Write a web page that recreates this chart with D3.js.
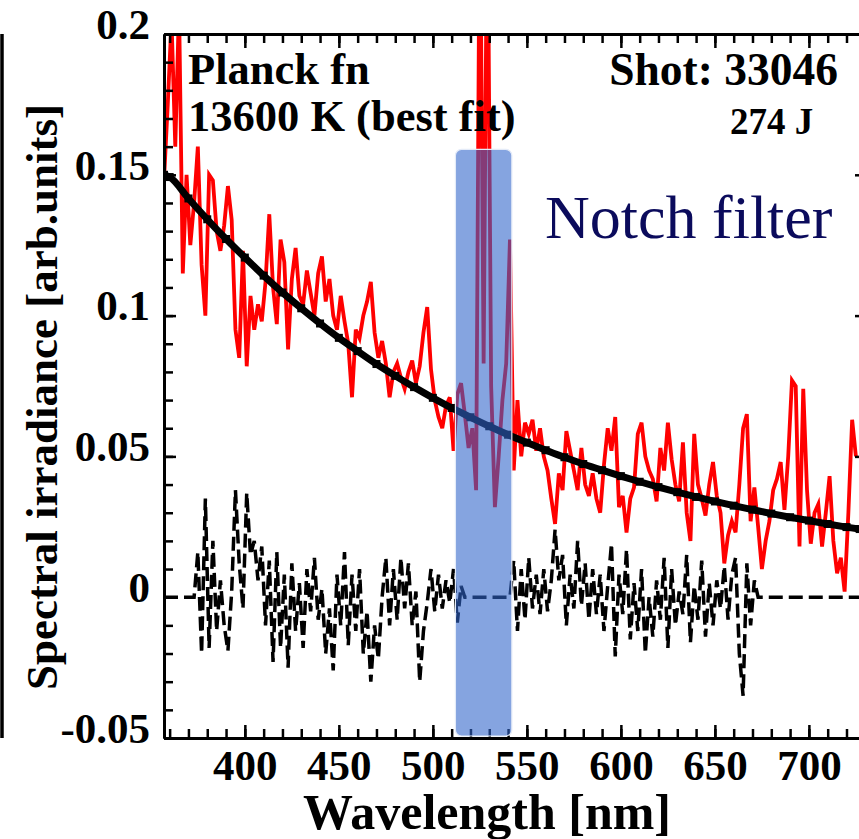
<!DOCTYPE html>
<html>
<head>
<meta charset="utf-8">
<script src="https://cdn.jsdelivr.net/npm/d3@7"></script>
<style>
  html, body { margin: 0; padding: 0; background: #fff; }
  svg text { font-family: "Liberation Serif", "Times New Roman", Times, "DejaVu Serif", serif; }
</style>
</head>
<body>
<div id="chart"></div>
<script>
const width = 859,
      height = 839;
const serif = '"Liberation Serif", "Times New Roman", Times, "DejaVu Serif", serif';

// measured spectrum, every 2 nm from 357 nm
const specStart = 357, specStep = 2;
const specVal = [
  0.148, 0.175, 0.205, 0.16, 0.21, 0.115, 0.15, 0.125, 0.14, 0.16,
  0.118, 0.10, 0.15, 0.148, 0.13, 0.123, 0.132, 0.146, 0.134, 0.095,
  0.085, 0.123, 0.082, 0.107, 0.095, 0.104, 0.098, 0.112, 0.136, 0.11,
  0.097, 0.127, 0.119, 0.088, 0.113, 0.124, 0.107, 0.104, 0.116, 0.108,
  0.1, 0.115, 0.121, 0.105, 0.113, 0.1, 0.095, 0.107, 0.098, 0.09,
  0.071, 0.095, 0.092, 0.1, 0.105, 0.112, 0.094, 0.085, 0.091, 0.083,
  0.071, 0.08, 0.083, 0.078, 0.074, 0.08, 0.084, 0.076, 0.082, 0.094,
  0.103, 0.081, 0.07, 0.064, 0.06, 0.068, 0.071, 0.052, 0.072, 0.076,
  0.065, 0.053, 0.06, 0.038, 0.26, 0.083, 0.26, 0.075, 0.032, 0.05,
  0.07, 0.083, 0.127, 0.045, 0.07, 0.05, 0.062, 0.058, 0.063, 0.052,
  0.06, 0.05, 0.045, 0.035, 0.026, 0.044, 0.038, 0.059, 0.052, 0.045,
  0.038, 0.053, 0.04, 0.036, 0.044, 0.035, 0.03, 0.047, 0.06, 0.052,
  0.064, 0.032, 0.036, 0.023, 0.035, 0.039, 0.058, 0.062, 0.05, 0.045,
  0.042, 0.034, 0.053, 0.045, 0.062, 0.049, 0.04, 0.034, 0.055, 0.03,
  0.02, 0.058, 0.04, 0.035, 0.029, 0.04, 0.048, 0.036, 0.03, 0.012,
  0.022, 0.027, 0.023, 0.04, 0.06, 0.065, 0.027, 0.039, 0.025, 0.01,
  0.02, 0.027, 0.038, 0.042, 0.048, 0.031, 0.05, 0.077, 0.075, 0.018,
  0.074, 0.038, 0.019, 0.03, 0.033, 0.018, 0.03, 0.043, 0.02, 0.0085,
  0.014, 0.002, 0.03, 0.063, 0.05
];

// Planck fit 13600 K
const fitNm = [357, 360, 370, 380, 390, 400, 410, 420, 430, 440, 450, 460, 470, 480,
  490, 500, 510, 520, 530, 540, 550, 560, 570, 580, 590, 600, 610, 620, 630, 640,
  650, 660, 670, 680, 690, 700, 710, 720, 727];
const fitVal = [0.150, 0.1492, 0.1416, 0.1342, 0.1272, 0.1206, 0.1142, 0.1082, 0.1026,
  0.0972, 0.0921, 0.0874, 0.0828, 0.0786, 0.0746, 0.0708, 0.0672, 0.0639, 0.0607,
  0.0577, 0.0549, 0.0522, 0.0497, 0.0473, 0.0451, 0.0430, 0.0410, 0.0391, 0.0373,
  0.0356, 0.0340, 0.0325, 0.0311, 0.0297, 0.0284, 0.0272, 0.0260, 0.0249, 0.0242];

// residual, every 2 nm from 373 to 673 nm, zero outside
const resStart = 373, resStep = 2;
const resVal = [
  0, 0.016, -0.02, 0.035, -0.018, 0.02, -0.012, 0.006, -0.01, -0.019,
  0.002, 0.038, 0.012, -0.004, 0.037, 0.015, 0.02, 0.006, 0.018, -0.01,
  0.013, -0.023, 0.016, -0.018, 0.008, -0.025, 0.012, -0.012, 0.005, -0.018,
  0.01, -0.005, 0.014, -0.008, 0.003, -0.02, -0.004, -0.026, 0.008, -0.01,
  0.016, -0.017, 0.008, -0.012, 0.01, -0.02, -0.005, -0.03, -0.01, -0.022,
  0, 0.014, -0.01, 0.01, -0.008, 0.014, -0.004, 0.012, -0.01, 0.002,
  -0.03, -0.012, -0.002, 0.01, -0.005, 0.008, -0.004, 0.006, -0.002, 0.01,
  -0.009, 0.004, 0, 0, 0, 0, 0, 0, 0, 0,
  0, 0, 0, 0, 0, 0.013, -0.012, 0.01, -0.008, 0.014,
  -0.004, 0.008, -0.006, 0.01, -0.005, 0.006, 0.024, 0.006, 0.015, -0.01,
  0.008, -0.004, 0.02, -0.003, 0.012, -0.008, 0.01, -0.006, 0.008, -0.012,
  0.004, 0.019, -0.021, 0.008, -0.006, 0.017, -0.015, 0.005, -0.012, 0.01,
  -0.02, 0, -0.014, 0.006, -0.008, 0.014, -0.018, 0.01, -0.01, 0.002,
  -0.006, 0.015, -0.016, 0.004, -0.008, 0.013, -0.014, 0.005, -0.01, 0.006,
  -0.004, 0.011, -0.008, 0.008, 0.014, -0.02, -0.035, 0.012, -0.01, 0.006,
  0
];
const resEnds = [357, 727];

const notchBand = [512, 542];   // nm
const notchTop = 0.159;

const xMajor = [400, 450, 500, 550, 600, 650, 700];
const yMajor = [-0.05, 0, 0.05, 0.1, 0.15, 0.2];
const yLabels = ["-0.05", "0", "0.05", "0.1", "0.15", "0.2"];

const spec = specVal.map((v, i) => [specStart + i * specStep, v]);
const fit = fitNm.map((n, i) => [n, fitVal[i]]);
const res = [[resEnds[0], 0]]
  .concat(resVal.map((v, i) => [resStart + i * resStep, v]))
  .concat([[resEnds[1], 0]]);

const plot = { left: 164, right: 870, top: 34, bottom: 738 };

const x = d3.scaleLinear().domain([357, 732.5]).range([plot.left, plot.right]);
const y = d3.scaleLinear().domain([-0.05, 0.2]).range([plot.bottom, plot.top]);

var svg = d3.select('#chart').append('svg')
  .attr('width', width)
  .attr('height', height);

svg.append('defs').append('clipPath').attr('id', 'clip')
  .append('rect')
  .attr('x', plot.left).attr('y', plot.top)
  .attr('width', plot.right - plot.left).attr('height', plot.bottom - plot.top);

// stray frame edge on the far left
svg.append('line')
  .attr('x1', 2).attr('x2', 2)
  .attr('y1', plot.top).attr('y2', plot.bottom)
  .attr('stroke', '#000').attr('stroke-width', 3.5);

var g = svg.append('g').attr('clip-path', 'url(#clip)');

var line = d3.line().x(d => x(d[0])).y(d => y(d[1]));

g.append('path').datum(spec)
  .attr('d', line)
  .attr('fill', 'none')
  .attr('stroke', '#ff0000')
  .attr('stroke-width', 3.8)
  .attr('stroke-linejoin', 'miter');

g.append('path').datum(fit)
  .attr('d', line.curve(d3.curveMonotoneX))
  .attr('fill', 'none')
  .attr('stroke', '#000')
  .attr('stroke-width', 7);

g.selectAll('rect.fitpt').data(fit)
  .enter().append('rect')
  .attr('class', 'fitpt')
  .attr('x', d => x(d[0]) - 4)
  .attr('y', d => y(d[1]) - 4)
  .attr('width', 8).attr('height', 8)
  .attr('fill', '#000');

line.curve(d3.curveLinear);
g.append('path').datum(res)
  .attr('d', line)
  .attr('fill', 'none')
  .attr('stroke', '#000')
  .attr('stroke-width', 3.5)
  .attr('stroke-dasharray', '14,6');

// axes: ticks drawn inward
function axisLines(sel) {
  sel.select('.domain').attr('stroke-width', 3);
  sel.selectAll('.tick line').attr('stroke-width', 2.5);
}

const xMinor = d3.range(360, 731, 10);
const yMinor = d3.range(-0.05, 0.2001, 0.01);

svg.append('g')
  .attr('transform', `translate(0,${plot.bottom})`)
  .call(d3.axisBottom(x).tickValues(xMinor).tickSize(-9).tickSizeOuter(0).tickFormat(''))
  .call(axisLines);
var xAx = svg.append('g')
  .attr('transform', `translate(0,${plot.bottom})`)
  .call(d3.axisBottom(x).tickValues(xMajor).tickSize(-13).tickSizeOuter(0).tickPadding(11))
  .call(axisLines);
svg.append('g')
  .attr('transform', `translate(0,${plot.top})`)
  .call(d3.axisTop(x).tickValues(xMinor).tickSize(-9).tickSizeOuter(0).tickFormat(''))
  .call(axisLines);
svg.append('g')
  .attr('transform', `translate(0,${plot.top})`)
  .call(d3.axisTop(x).tickValues(xMajor).tickSize(-14).tickSizeOuter(0).tickFormat(''))
  .call(axisLines);

svg.append('g')
  .attr('transform', `translate(${plot.left},0)`)
  .call(d3.axisLeft(y).tickValues(yMinor).tickSize(-9).tickSizeOuter(0).tickFormat(''))
  .call(axisLines);
var yAx = svg.append('g')
  .attr('transform', `translate(${plot.left},0)`)
  .call(d3.axisLeft(y).tickValues(yMajor).tickSize(-12).tickSizeOuter(0).tickPadding(14)
    .tickFormat((d, i) => yLabels[i]))
  .call(axisLines);
svg.append('g')
  .attr('transform', `translate(${plot.right},0)`)
  .call(d3.axisRight(y).tickValues(yMajor).tickSize(-15).tickSizeOuter(0).tickFormat(''))
  .call(axisLines);

svg.selectAll('g.tick text, g[font-family]').attr('font-family', serif);

xAx.selectAll('text')
  .attr('font-size', 43).attr('font-weight', 'bold').attr('fill', '#000');
yAx.selectAll('text')
  .attr('font-size', 43).attr('font-weight', 'bold').attr('fill', '#000')
  .attr('x', 150 - plot.left).attr('dy', '0.1em');

// notch filter band, drawn over the traces
svg.append('rect')
  .attr('x', x(notchBand[0])).attr('y', y(notchTop))
  .attr('width', x(notchBand[1]) - x(notchBand[0]))
  .attr('height', plot.bottom - 2 - y(notchTop))
  .attr('rx', 6).attr('ry', 6)
  .attr('fill', '#3065ca').attr('fill-opacity', 0.59)
  .attr('stroke', '#e4ebf8').attr('stroke-width', 1.2);

// labels
var labels = svg.append('g').attr('font-family', serif);

labels.append('text')
  .attr('x', 487).attr('y', 829)
  .attr('text-anchor', 'middle')
  .attr('font-size', 50).attr('font-weight', 'bold')
  .text('Wavelength [nm]');

labels.append('text')
  .attr('transform', 'translate(57,397) rotate(-90)')
  .attr('text-anchor', 'middle')
  .attr('font-size', 45).attr('font-weight', 'bold')
  .text('Spectral irradiance [arb.units]');

labels.append('text').attr('x', 188).attr('y', 84)
  .attr('font-size', 44.5).attr('font-weight', 'bold').text('Planck fn');
labels.append('text').attr('x', 188).attr('y', 131)
  .attr('font-size', 44.5).attr('font-weight', 'bold').text('13600 K (best fit)');
labels.append('text').attr('x', 838).attr('y', 85).attr('text-anchor', 'end')
  .attr('font-size', 45.5).attr('font-weight', 'bold').text('Shot: 33046');
labels.append('text').attr('x', 730).attr('y', 134)
  .attr('font-size', 37).attr('font-weight', 'bold').text('274 J');
labels.append('text').attr('x', 545).attr('y', 238)
  .attr('font-size', 62).attr('fill', '#0b0b5c').text('Notch filter');
</script>
</body>
</html>
